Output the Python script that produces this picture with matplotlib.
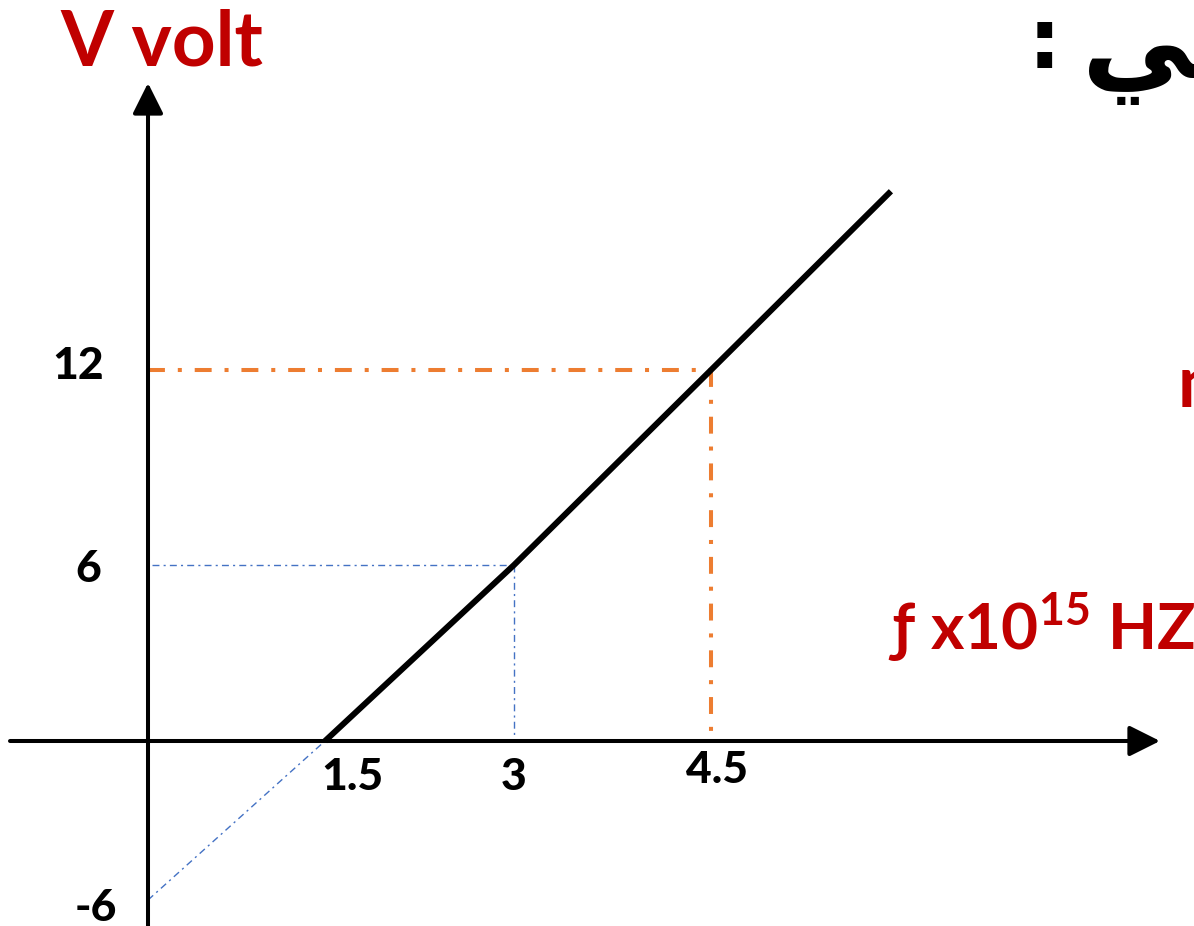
import numpy as np
import matplotlib.pyplot as plt

plt.rcParams['mathtext.fontset'] = 'custom'
plt.rcParams['mathtext.rm'] = 'Lato:bold'
plt.rcParams['mathtext.bf'] = 'Lato:bold'

# data
f_line = [1.5, 3, 4.5, 5.87]
v_line = [0, 6, 12, 17.5]
f_ext = [0, 1.5]
v_ext = [-6, 0]
f_ticks = [1.5, 3, 4.5]
f_labels = ['1.5', '3', '4.5']
v_ticks = [12, 6, -6]
v_labels = ['12', '6', '-6']
f_orange, v_orange = 4.5, 12
f_blue, v_blue = 3, 6

# hand drawn axes are not quite linear: piecewise scale (data -> pixel)
W, H = 1194, 926
x_knots, x_pix = [0, 1.5, 3, 4.5], [148, 325, 514, 711]
y_knots, y_pix = [-6, 0, 6, 12], [H - 900, H - 741, H - 565, H - 370]


def piecewise(xs, ys):
    xs = np.asarray(xs, float)
    ys = np.asarray(ys, float)

    def go(v, a, b):
        v = np.asarray(v, float)
        out = np.interp(v, a, b)
        s0 = (b[1] - b[0]) / (a[1] - a[0])
        s1 = (b[-1] - b[-2]) / (a[-1] - a[-2])
        out = np.where(v < a[0], b[0] + (v - a[0]) * s0, out)
        out = np.where(v > a[-1], b[-1] + (v - a[-1]) * s1, out)
        return out

    return (lambda v: go(v, xs, ys)), (lambda p: go(p, ys, xs))


fx, ix = piecewise(x_knots, x_pix)
fy, iy = piecewise(y_knots, y_pix)

fig = plt.figure(figsize=(W / 100, H / 100), dpi=100)
ax = fig.add_axes([0, 0, 1, 1])
ax.set_xscale('function', functions=(fx, ix))
ax.set_yscale('function', functions=(fy, iy))
ax.set_xlim(float(ix(0)), float(ix(W)))
ax.set_ylim(float(iy(0)), float(iy(H)))
ax.axis('off')

orange = '#ED7D31'
blue = '#4472C4'
red = '#C00000'

# axes with arrow heads
arrow = dict(arrowstyle='-|>,head_length=0.4,head_width=0.2', color='black',
             lw=2.9, mutation_scale=47, shrinkA=0, shrinkB=0)
ax.annotate('', xy=(float(ix(1160)), 0), xytext=(float(ix(10)), 0), arrowprops=arrow)
ax.annotate('', xy=(0, float(iy(H - 83))), xytext=(0, float(iy(-5))), arrowprops=arrow)

# guide lines
ax.plot([0, f_orange], [v_orange, v_orange], color=orange, lw=2.9,
        linestyle=(0, (4.2, 3.2, 1.0, 3.2)), solid_capstyle='butt')
ax.plot([f_orange, f_orange], [v_orange, 0], color=orange, lw=2.9,
        linestyle=(0, (4.2, 3.2, 1.0, 3.2)))
ax.plot([0.03, f_blue], [v_blue, v_blue], color=blue, lw=1.0,
        linestyle=(0, (5, 3, 1.5, 3)))
ax.plot([f_blue, f_blue], [v_blue, 0], color=blue, lw=1.0,
        linestyle=(0, (5, 3, 1.5, 3)))
ax.plot(f_ext, v_ext, color=blue, lw=1.0, linestyle=(0, (5, 3, 1.5, 3)))

# main line
ax.plot(f_line, v_line, color='black', lw=4.3, solid_capstyle='butt')

# tick labels
lab = dict(fontsize=32, fontweight='black', family='Lato', color='black')
x_off = [(-3, -26), (0, -26), (4, -21)]
x_ha = ['left', 'center', 'center']
for f, t, o, ha in zip(f_ticks, f_labels, x_off, x_ha):
    ax.annotate(t, (f, 0), xytext=o, textcoords='offset points',
                ha=ha, va='center', **lab)
y_off = [(-32, 3), (-34, -3), (-22, -6)]
for v, t, o in zip(v_ticks, v_labels, y_off):
    ax.annotate(t, (0, v), xytext=o, textcoords='offset points',
                ha='right', va='center', **lab)

# axis titles
ax.text(60 / W, 1 - 66 / H, 'V volt', transform=ax.transAxes, fontsize=55,
        fontweight='bold', family='Lato', color=red, ha='left', va='baseline')
ax.text(888 / W, 1 - 650 / H, r'ƒ x10$^{\mathbf{15}}$ HZ', transform=ax.transAxes,
        fontsize=46, fontweight='bold', family='Lato', color=red,
        ha='left', va='baseline')

# cut-off texts at the edges of the slide
ax.text(1028 / W, 1 - 68 / H, ':', transform=ax.transAxes, fontsize=60,
        fontweight='bold', family='DejaVu Sans', color='black',
        ha='left', va='baseline')
ax.text(1082 / W, 1 - 78 / H, 'ﻲﺗﻵﺍ', transform=ax.transAxes, fontsize=80,
        fontweight='bold', family='DejaVu Sans', color='black',
        ha='left', va='baseline')
ax.text(1178 / W, 1 - 407 / H, 'n', transform=ax.transAxes, fontsize=52,
        fontweight='bold', family='Lato', color=red, ha='left', va='baseline')

fig.savefig('out.png', dpi=100)
